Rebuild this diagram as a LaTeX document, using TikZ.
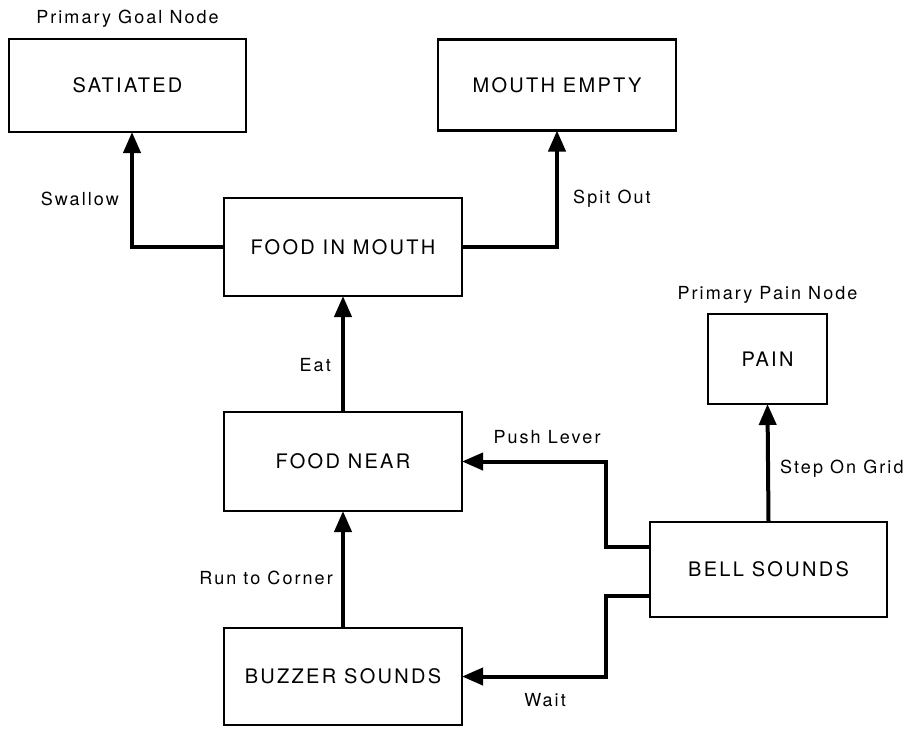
\documentclass[tikz,border=0pt]{standalone}
\usepackage{fontspec}
\setmainfont{TeX Gyre Heros}[LetterSpace=11.5]
\usetikzlibrary{arrows.meta}
\tikzset{state/.style={draw=black, line width=2.2pt, rectangle, inner sep=0pt, outer sep=0pt, font=\fontsize{20}{23}\selectfont, minimum width=#1},
state/.default={238pt},
lbl/.style={inner sep=1pt, font=\fontsize{18}{21}\selectfont},
conn/.style={line width=4pt, -{Triangle[length=21pt,width=17pt]}}}

\begin{document}
\begin{tikzpicture}[x=1pt,y=-1pt]
\useasboundingbox (0,0) rectangle (917,728);
% nodes
\node[state=237pt, minimum height=93pt] (sat) at (127.5,85.5) {SATIATED};
\node[state, minimum height=91pt] (empty) at (557,85) {MOUTH EMPTY};
\node[state, minimum height=98pt] (mouth) at (343,247) {FOOD IN MOUTH};
\node[state, minimum height=99pt] (near) at (343,461.5) {FOOD NEAR};
\node[state, minimum height=97pt] (buzzer) at (343,676.5) {BUZZER SOUNDS};
\node[state=119pt, minimum height=90pt] (pain) at (767.5,359) {PAIN};
\node[state=237pt, minimum height=95pt] (bell) at (768.5,569.5) {BELL SOUNDS};

\node[lbl] (goaltag) at (127.5,19) {Primary Goal Node};
\node[lbl] (paintag) at (767.5,295) {Primary Pain Node};

% connectors
\coordinate (jog) at (606,0);
\draw[conn] (mouth.west) -| ([xshift=4.5pt]sat.south);
\draw[conn] (mouth.east) -| (empty.south);
\draw[conn] (near.north) -- (mouth.south);
\draw[conn] (buzzer.north) -- (near.south);
\draw[conn] (bell.north) -- (pain.south);
\draw[conn] ([yshift=23pt]bell.west) -| (jog |- near.east) -- (near.east);
\draw[conn] ([yshift=-26pt]bell.west) -| (jog |- buzzer.east) -- (buzzer.east);

%labels
\node[lbl, anchor=east] (swallow) at (120,199) {Swallow};
\node[lbl, anchor=west] (spit) at (572,199) {Spit Out};
\node[lbl, anchor=east] (eat) at (332,365) {Eat};
\node[lbl, anchor=east] (run) at (334,578) {Run to Corner};
\node[lbl] (push) at (547,437) {Push Lever};
\node[lbl] (wait) at (545,700) {Wait};
\node[lbl, anchor=west] (grid) at (779,469) {Step On Grid};
\end{tikzpicture}
\end{document}
